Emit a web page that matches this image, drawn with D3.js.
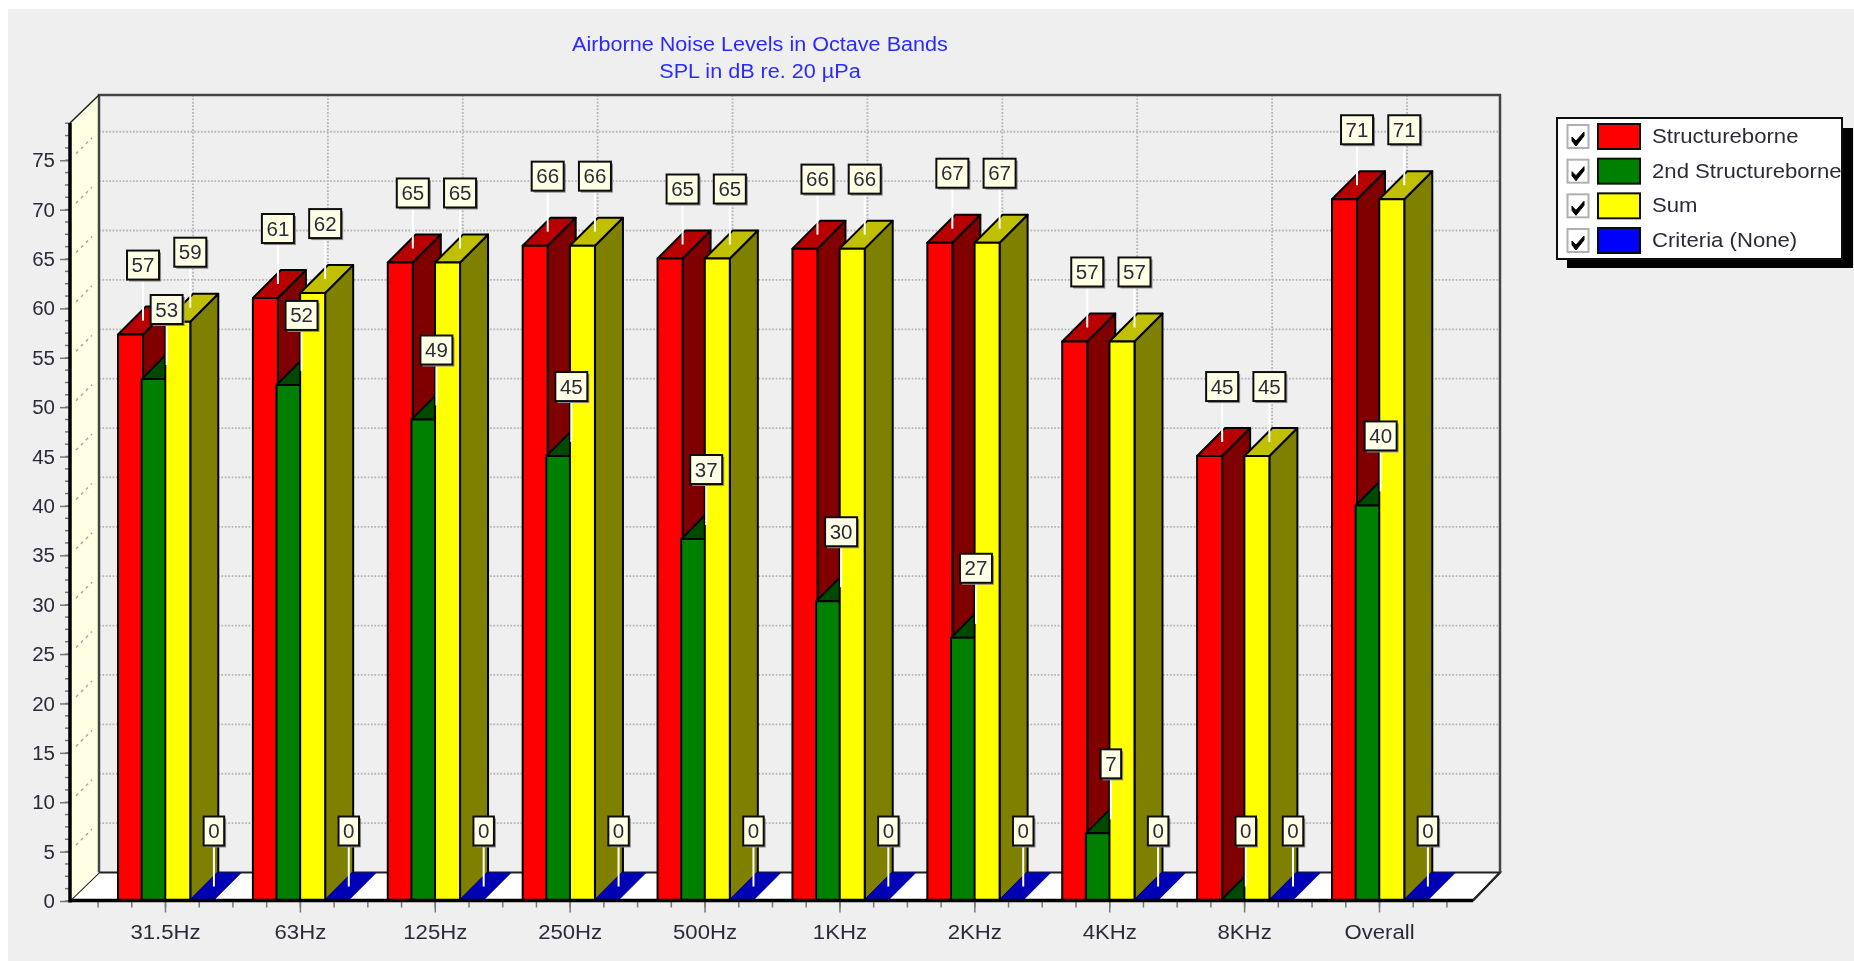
<!DOCTYPE html>
<html>
<head>
<meta charset="utf-8">
<script src="https://cdn.jsdelivr.net/npm/d3@7"></script>
<style>
html,body{margin:0;padding:0;background:#fff;overflow:hidden}
svg{display:block}
text{font-family:"Liberation Sans",Arial,sans-serif}
</style>
</head>
<body>
<svg id="chart" width="1854" height="961"></svg>
<script>
const categories = ["31.5Hz","63Hz","125Hz","250Hz","500Hz","1KHz","2KHz","4KHz","8KHz","Overall"];
const structureborne = [57.3,61,64.6,66.3,65,66,66.6,56.6,45,71];
const secondStructureborne = [52.8,52.2,48.7,45,36.6,30.3,26.6,6.8,0,40];
const sum = [58.6,61.5,64.6,66.3,65,66,66.6,56.6,45,71];
const criteria = [0,0,0,0,0,0,0,0,0,0];
const seriesNames = ["Structureborne","2nd Structureborne","Sum","Criteria (None)"];
const seriesValues = [structureborne, secondStructureborne, sum, criteria];
const frontColors = ["#ff0000","#008000","#ffff00","#0000ff"];
const topColors = ["#b80000","#004a00","#c0c000","#0000b4"];
const sideColors = ["#800000","#004000","#808000","#000080"];
const titleLines = ["Airborne Noise Levels in Octave Bands","SPL in dB re. 20 µPa"];
const yMajor = d3.range(0,76,5);
const yMinor = d3.range(0,79,1.25);

const root = d3.select("#chart");
root.append("defs").append("filter").attr("id","soft").attr("x",0).attr("y",0).attr("width",1).attr("height",1)
  .append("feGaussianBlur").attr("stdDeviation",0.45);
root.append("rect").attr("x",8).attr("y",9).attr("width",1846).attr("height",952).attr("fill","#efefef");
const svg = root.append("g").attr("filter","url(#soft)");
const FONT = 20.5, DEPTH = 28, STRETCH = 1.08;
const plot = {left:70, right:1473, top:123, bottom:900.5};

const y = d3.scaleLinear().domain([0,78.72]).range([plot.bottom,plot.top]);
const x = d3.scalePoint().domain(categories).range([165,1379]);
const xLin = d3.scaleLinear().domain([0,categories.length-1]).range([165,1379]);
const xMinorVals = d3.range(-0.5,9.51,0.25);
const sx = d3.scaleBand().domain(d3.range(4)).range([-47,47.5]).padding(0);
const bw = sx.bandwidth()+1.4;

const widen = sel => sel.each(function(){
  const len = this.getComputedTextLength();
  d3.select(this).attr("textLength",(len*STRETCH).toFixed(1)).attr("lengthAdjust","spacingAndGlyphs");
});

// title
svg.selectAll("text.title").data(titleLines).join("text")
  .attr("class","title").attr("x",760).attr("y",(d,i)=>51+i*27)
  .attr("text-anchor","middle").attr("font-size",20).attr("fill","#2a2aff").text(d=>d).call(widen);

const poly = pts => "M"+pts.map(p=>p.join(",")).join("L")+"Z";

// floor and walls
const backL = plot.left+29, backR = 1500, backT = plot.top-28, backB = plot.bottom-28;
svg.append("path").attr("d",poly([[plot.left,plot.bottom],[backL,backB],[backR,backB],[plot.right,plot.bottom]]))
  .attr("fill","#fff").attr("stroke","#222").attr("stroke-width",2);
svg.append("path").attr("d",poly([[plot.left,plot.top],[backL,backT],[backL,backB],[plot.left,plot.bottom]]))
  .attr("fill","#ffffe4").attr("stroke","none");

// grid on back wall
svg.append("g").selectAll("line").data(yMajor.filter(d=>d>0)).join("line")
  .attr("x1",backL).attr("x2",backR).attr("y1",d=>y(d)-DEPTH).attr("y2",d=>y(d)-DEPTH)
  .attr("stroke","#b4b4b4").attr("stroke-width",1.8).attr("stroke-dasharray","1.7 1.7");
svg.append("g").selectAll("line").data(categories).join("line")
  .attr("x1",d=>x(d)+DEPTH).attr("x2",d=>x(d)+DEPTH).attr("y1",backT).attr("y2",backB)
  .attr("stroke","#b4b4b4").attr("stroke-width",1.8).attr("stroke-dasharray","1.7 1.7");
// grid on left wall
svg.append("g").selectAll("line").data(yMajor.filter(d=>d>0)).join("line")
  .attr("x1",plot.left+6).attr("x2",plot.left+22).attr("y1",d=>y(d)-6).attr("y2",d=>y(d)-22)
  .attr("stroke","#a8a8a8").attr("stroke-width",1.5).attr("stroke-dasharray","3 4");

// back wall frame
svg.append("path").attr("d",`M${backL},${backB}L${backL},${backT}L${backR},${backT}L${backR},${backB}`)
  .attr("fill","none").attr("stroke","#444").attr("stroke-width",2.5);
svg.append("line").attr("x1",plot.left).attr("y1",plot.top).attr("x2",backL).attr("y2",backT)
  .attr("stroke","#222").attr("stroke-width",1.5);
svg.append("line").attr("x1",backR).attr("y1",backB).attr("x2",plot.right).attr("y2",plot.bottom)
  .attr("stroke","#222").attr("stroke-width",2);

// bars
categories.forEach((c,ci)=>{
  const g = svg.append("g");
  seriesValues.forEach((vals,si)=>{
    const x0 = x(c)+sx(si), x1 = x0+bw, yt = y(vals[ci]), yb = y(0);
    const isFlat = vals[ci]===0 && si===3;
    const b = g.append("g").attr("stroke",isFlat?"none":"#000").attr("stroke-width",2).attr("stroke-linejoin","round");
    b.append("path").attr("d",poly([[x1,yb],[x1+DEPTH,yb-DEPTH],[x1+DEPTH,yt-DEPTH],[x1,yt]])).attr("fill",sideColors[si]);
    b.append("path").attr("d",poly([[x0,yt],[x0+DEPTH,yt-DEPTH],[x1+DEPTH,yt-DEPTH],[x1,yt]])).attr("fill",topColors[si]);
    if(vals[ci]>0) b.append("rect").attr("x",x0).attr("y",yt).attr("width",bw).attr("height",yb-yt).attr("fill",frontColors[si]);
  });
});

// axes
const yAxisMinor = d3.axisLeft(y).tickValues(yMinor).tickSize(5).tickFormat("");
const yAxisMajor = d3.axisLeft(y).tickValues(yMajor).tickSize(10).tickPadding(5).tickFormat(d3.format("d"));
const xAxisMinor = d3.axisBottom(xLin).tickValues(xMinorVals).tickSize(7).tickFormat("");
const xAxisMajor = d3.axisBottom(x).tickSize(12).tickPadding(12);
[[yAxisMinor,`translate(${plot.left},0)`],[yAxisMajor,`translate(${plot.left},0.5)`],
 [xAxisMinor,`translate(0,${plot.bottom})`],[xAxisMajor,`translate(0,${plot.bottom})`]].forEach(([a,t])=>{
  const g = svg.append("g").attr("transform",t).call(a);
  g.select(".domain").remove();
  g.selectAll("line").attr("stroke","#777").attr("stroke-width",1.5);
  g.selectAll("text").attr("font-size",FONT).attr("fill","#2b2b3a").attr("font-family",'"Liberation Sans",Arial,sans-serif');
  if(a===xAxisMajor) g.selectAll("text").call(widen);
});
svg.append("line").attr("x1",plot.left).attr("x2",plot.left).attr("y1",plot.top).attr("y2",plot.bottom+2)
  .attr("stroke","#000").attr("stroke-width",3.5);
svg.append("line").attr("x1",plot.left).attr("x2",plot.right).attr("y1",plot.bottom).attr("y2",plot.bottom)
  .attr("stroke","#000").attr("stroke-width",3.5);

// value labels
const labelLayer = svg.append("g");
categories.forEach((c,ci)=>{
  seriesValues.forEach((vals,si)=>{
    const lx = x(c)+sx(si)+bw, ly = y(vals[ci])-14;
    const txt = d3.format(".0f")(vals[ci]);
    const w = txt.length>1?32:20.5, h = 29, bot = ly-41;
    const g = labelLayer.append("g");
    g.append("line").attr("x1",lx).attr("x2",lx).attr("y1",bot).attr("y2",ly).attr("stroke","#fff").attr("stroke-width",2);
    g.append("rect").attr("x",lx-w/2+2).attr("y",bot-h+2).attr("width",w).attr("height",h).attr("fill","#8a8a8a");
    g.append("rect").attr("x",lx-w/2).attr("y",bot-h).attr("width",w).attr("height",h)
      .attr("fill","#ffffe6").attr("stroke","#111").attr("stroke-width",2);
    g.append("text").attr("x",lx).attr("y",bot-h/2+7).attr("text-anchor","middle")
      .attr("font-size",FONT).attr("fill","#2b2b3a").text(txt);
  });
});

// legend
const lg = svg.append("g");
lg.append("rect").attr("x",1567).attr("y",128).attr("width",286).attr("height",140).attr("fill","#000");
lg.append("rect").attr("x",1557).attr("y",118).attr("width",285).attr("height",141).attr("fill","#fff").attr("stroke","#111").attr("stroke-width",2);
const rowY = d3.scalePoint().domain(seriesNames).range([136,240]);
seriesNames.forEach((n,i)=>{
  const cy = rowY(n);
  lg.append("rect").attr("x",1567.5).attr("y",cy-11).attr("width",21).attr("height",23).attr("fill","#fff").attr("stroke","#b0b0b0").attr("stroke-width",2);
  lg.append("path").attr("d",`M${1572},${cy+1}l4,4l8,-9l0,4l-8,10l-4,-5z`).attr("fill","#000").attr("stroke","#000").attr("stroke-width",1);
  lg.append("rect").attr("x",1598).attr("y",cy-12).attr("width",42).attr("height",25).attr("fill",frontColors[i]).attr("stroke","#111").attr("stroke-width",2);
  lg.append("text").attr("x",1652).attr("y",cy+7).attr("font-size",FONT).attr("fill","#2b2b3a").text(n).call(widen);
});
</script>
</body>
</html>
